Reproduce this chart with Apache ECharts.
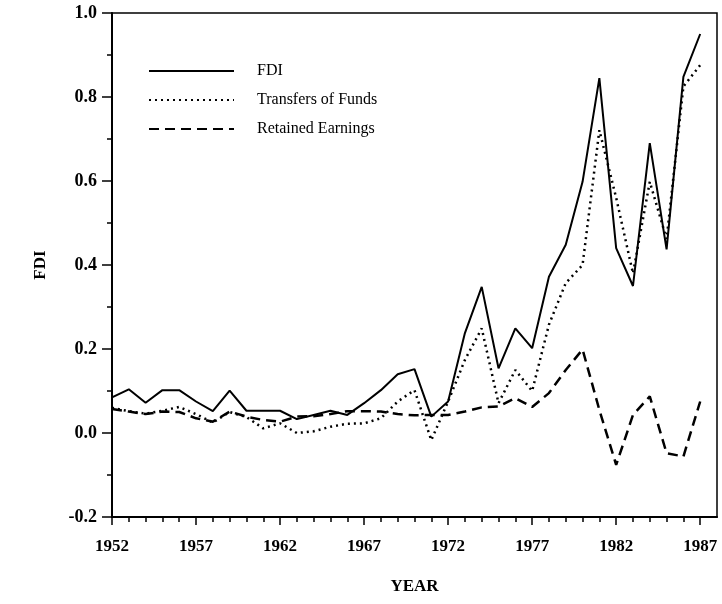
<!DOCTYPE html>
<html>
<head>
<meta charset="utf-8">
<script src="https://cdn.jsdelivr.net/npm/echarts@6/dist/echarts.min.js"></script>
<style>html,body{margin:0;padding:0;background:#fff}#c{width:722px;height:604px}</style>
</head>
<body>
<div id="c"></div>
<script>
const years = [1952,1953,1954,1955,1956,1957,1958,1959,1960,1961,1962,1963,1964,1965,1966,1967,1968,1969,1970,1971,1972,1973,1974,1975,1976,1977,1978,1979,1980,1981,1982,1983,1984,1985,1986,1987];
const fdi = [0.085,0.104,0.072,0.102,0.102,0.075,0.052,0.101,0.053,0.053,0.053,0.033,0.043,0.053,0.043,0.071,0.102,0.140,0.152,0.039,0.075,0.238,0.348,0.154,0.249,0.202,0.372,0.448,0.598,0.845,0.440,0.350,0.690,0.437,0.848,0.950];
const transfers = [0.060,0.052,0.046,0.053,0.062,0.045,0.025,0.050,0.038,0.011,0.023,0.000,0.004,0.015,0.022,0.023,0.035,0.075,0.102,-0.017,0.075,0.174,0.249,0.071,0.150,0.100,0.258,0.357,0.400,0.721,0.560,0.380,0.598,0.462,0.825,0.876];
const retained = [0.057,0.051,0.045,0.051,0.050,0.035,0.027,0.051,0.039,0.031,0.027,0.039,0.040,0.045,0.052,0.052,0.051,0.045,0.042,0.043,0.043,0.051,0.061,0.063,0.083,0.062,0.095,0.150,0.199,0.055,-0.076,0.043,0.087,-0.048,-0.056,0.075];
const labelYears = [1952,1957,1962,1967,1972,1977,1982,1987];
const seriesNames = ['FDI','Transfers of Funds','Retained Earnings'];

const font = '"Liberation Serif","Times New Roman",serif';
const pairs = arr => years.map((y,i)=>[y,arr[i]]);
const chart = echarts.init(document.getElementById('c'), null, {renderer:'canvas'});
chart.setOption({
  animation:false,
  backgroundColor:'#fff',
  grid:{left:112,right:5,top:13,bottom:87,show:true,borderColor:'#000',borderWidth:1.5,backgroundColor:'transparent'},
  legend:{
    orient:'vertical', left:143, top:58, itemWidth:85, itemHeight:14, itemGap:13,
    data:seriesNames,
    itemStyle:{opacity:0},
    textStyle:{fontFamily:font,fontSize:16,color:'#000',padding:[0,0,0,18]}
  },
  xAxis:[{
    type:'value', min:1952, max:1988, position:'bottom',
    axisLine:{show:true,onZero:false,lineStyle:{color:'#000',width:2}},
    axisTick:{show:true,length:8,customValues:labelYears,lineStyle:{color:'#000',width:1.5}},
    axisLabel:{customValues:labelYears,fontFamily:font,fontSize:17,fontWeight:'bold',color:'#000',margin:21,formatter:v=>String(v)},
    splitLine:{show:false},
    name:'YEAR', nameLocation:'middle', nameGap:61,
    nameTextStyle:{fontFamily:font,fontSize:17,fontWeight:'bold',color:'#000'}
  },{
    type:'value', min:1952, max:1988, position:'bottom', gridIndex:0,
    axisLine:{show:false,onZero:false},
    axisTick:{show:true,length:5,customValues:years,lineStyle:{color:'#000',width:1.5}},
    axisLabel:{show:false},
    splitLine:{show:false}
  }],
  yAxis:{
    type:'value', min:-0.2, max:1.0, interval:0.2,
    axisLine:{show:true,onZero:false,lineStyle:{color:'#000',width:2}},
    axisTick:{show:true,length:10,lineStyle:{color:'#000',width:1.5}},
    minorTick:{show:true,splitNumber:2,length:5,lineStyle:{color:'#000',width:1.5}},
    axisLabel:{fontFamily:font,fontSize:18,fontWeight:'bold',color:'#000',margin:15,formatter:v=>v.toFixed(1)},
    splitLine:{show:false}, minorSplitLine:{show:false},
    name:'FDI', nameLocation:'middle', nameGap:63, nameRotate:90,
    nameTextStyle:{fontFamily:font,fontSize:17,fontWeight:'bold',color:'#000'}
  },
  series:[
    {name:seriesNames[0],type:'line',data:pairs(fdi),symbol:'none',lineStyle:{color:'#000',width:2,type:'solid'},itemStyle:{color:'#000'}},
    {name:seriesNames[1],type:'line',data:pairs(transfers),symbol:'none',lineStyle:{color:'#000',width:2.5,type:[2,4]},itemStyle:{color:'#000'}},
    {name:seriesNames[2],type:'line',data:pairs(retained),symbol:'none',lineStyle:{color:'#000',width:2.5,type:[10,6]},itemStyle:{color:'#000'}}
  ]
});
</script>
</body>
</html>
